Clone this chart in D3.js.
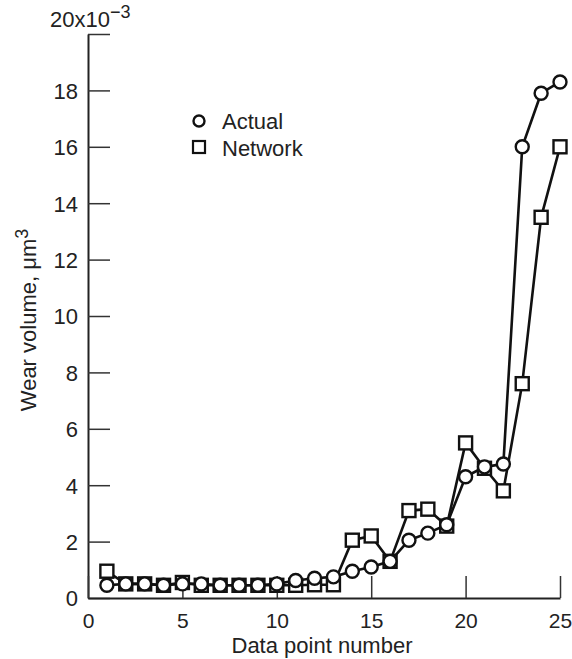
<!DOCTYPE html>
<html><head><meta charset="utf-8">
<script src="https://cdn.jsdelivr.net/npm/d3@7"></script>
<style>body{margin:0;background:#fff}svg{display:block}text{font-family:"Liberation Sans",Arial,sans-serif;fill:#222}</style>
</head><body><svg id="c" width="572" height="659"></svg>
<script>
const pointNumbers = d3.range(1, 26);
const actual = [0.45,0.5,0.5,0.45,0.5,0.5,0.45,0.45,0.45,0.5,0.62,0.7,0.75,0.95,1.1,1.3,2.05,2.3,2.6,4.3,4.65,4.75,16.0,17.9,18.3];
const network = [0.95,0.5,0.5,0.45,0.55,0.45,0.45,0.45,0.45,0.45,0.45,0.47,0.47,2.05,2.2,1.3,3.1,3.15,2.55,5.5,4.6,3.8,7.6,13.5,16.0];
const yTicks = [0,2,4,6,8,10,12,14,16,18,20];
const xTicks = [0,5,10,15,20,25];
const seriesNames = ["Actual","Network"];

const FS = "22px";
const svg = d3.select("#c");
const x = d3.scaleLinear().domain([0,25]).range([88,560]);
const y = d3.scaleLinear().domain([0,20]).range([598,34]);

// axes
const yAxis = d3.axisLeft(y).tickValues(yTicks).tickSizeInner(-22).tickSizeOuter(0).tickPadding(10)
  .tickFormat(d => d === 20 ? "" : d);
const gy = svg.append("g").attr("transform","translate(88,0)").call(yAxis);
const xAxis = d3.axisBottom(x).tickValues(xTicks).tickSizeInner(-22).tickSizeOuter(0).tickPadding(0);
const gx = svg.append("g").attr("transform","translate(0,598)").call(xAxis);
[gx, gy].forEach(g => {
  g.selectAll("path.domain").attr("stroke","#222").attr("stroke-width",2);
  g.selectAll(".tick line").attr("stroke","#333").attr("stroke-width",1.5);
  g.selectAll(".tick text").style("font-size",FS).attr("fill","#222").style("font-family","'Liberation Sans',Arial,sans-serif");
});
gx.selectAll(".tick text").style("font-size","21px").attr("y",30).attr("dy",0);
gy.selectAll(".tick text").attr("dy","0.36em");

// top exponent label
const topLabel = svg.append("text").attr("x",50).attr("y",27).style("font-size",FS);
topLabel.append("tspan").text("20x10");
topLabel.append("tspan").attr("dy",-9).style("font-size","18px").text("\u22123");

// axis titles
svg.append("text").attr("x",322).attr("y",653).attr("text-anchor","middle").style("font-size",FS).text("Data point number");
const yt = svg.append("text").attr("transform","translate(36,320) rotate(-90)").attr("text-anchor","middle").style("font-size",FS);
yt.append("tspan").text("Wear volume, \u03bcm");
yt.append("tspan").attr("dy",-8).style("font-size","18px").text("3");

// lines
const line = d3.line().x((d,i)=>x(pointNumbers[i])).y(d=>y(d));
[actual, network].forEach(s => {
  svg.append("path").datum(s).attr("d",line).attr("fill","none").attr("stroke","#111").attr("stroke-width",2.6);
});

// markers
svg.append("g").selectAll("rect").data(network).join("rect")
  .attr("x",(d,i)=>x(pointNumbers[i])-6.5).attr("y",d=>y(d)-6.5).attr("width",13).attr("height",13)
  .attr("fill","#fff").attr("stroke","#111").attr("stroke-width",2.4);
svg.append("g").selectAll("circle").data(actual).join("circle")
  .attr("cx",(d,i)=>x(pointNumbers[i])).attr("cy",d=>y(d)).attr("r",6.5)
  .attr("fill","#fff").attr("stroke","#111").attr("stroke-width",2.4);

// legend
const lg = svg.append("g");
lg.append("circle").attr("cx",199).attr("cy",121).attr("r",5.5).attr("fill","#fff").attr("stroke","#111").attr("stroke-width",2.4);
lg.append("rect").attr("x",193).attr("y",141).attr("width",12).attr("height",12).attr("fill","#fff").attr("stroke","#111").attr("stroke-width",2.2);
lg.append("text").attr("x",222).attr("y",129).style("font-size",FS).text(seriesNames[0]);
lg.append("text").attr("x",222).attr("y",156).style("font-size",FS).text(seriesNames[1]);
</script></body></html>
